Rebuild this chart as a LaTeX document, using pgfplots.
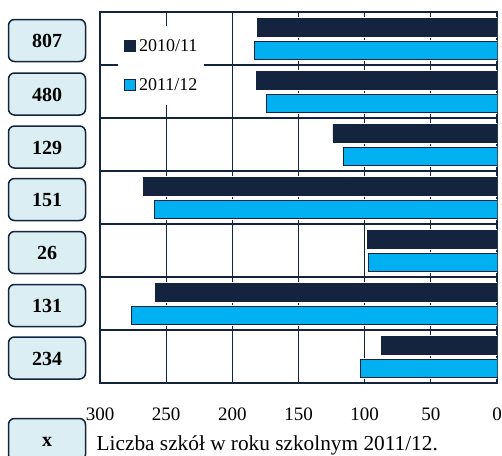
\documentclass[border=0pt]{standalone}
\usepackage{pgfplots}
\pgfplotsset{compat=1.18}
\usepackage{fontspec}
\setmainfont{Liberation Serif}
\definecolor{navy}{HTML}{14243E}
\definecolor{lblue}{HTML}{00B0F0}
\definecolor{boxfill}{HTML}{DBEEF3}
\pgfplotsset{
  layers/mylayers/.define layer set={axis background,axis grid,main,axis ticks,axis lines,axis tick labels,axis descriptions,axis foreground}{},
}
\begin{document}
\begin{tikzpicture}
\begin{axis}[
  set layers=mylayers,
  at={(100pt,-383pt)}, anchor=south west,
  width=397pt, height=371pt, scale only axis,
  xbar, bar width=18pt,
  xmin=0, xmax=300, x dir=reverse,
  ymin=0.5, ymax=7.5,
  xtick={0,50,...,300},
  ytick={1.5,2.5,...,6.5},
  yticklabels={},
  xmajorgrids, ymajorgrids,
  grid style={navy, line width=1.2pt},
  axis line style={navy, line width=1.8pt},
  major tick length=0pt,
  /pgf/number format/assume math mode=true,
  tick label style={font=\fontsize{19}{21}\selectfont, text=black},
  xticklabel style={yshift=-21pt},
  legend style={at={(axis description cs:0.045,0.962)}, anchor=north west,
    draw=none, fill=white, inner xsep=5pt, inner ysep=11pt, row sep=21.5pt,
    font=\fontsize{18}{20}\selectfont, legend cell align=left},
  legend image code/.code={\draw[#1, draw=navy, line width=0.8pt] (0pt,-5.5pt) rectangle (11pt,5.5pt);},
]
\addplot[fill=navy, draw=navy, line width=0.8pt, bar shift=11.5pt, preaction={draw=white, line width=3pt}]
  coordinates {(181,7) (182,6) (124,5) (267,4) (98,3) (258,2) (87,1)};
\addplot[fill=lblue, draw=navy, line width=1pt, bar shift=-11.5pt, preaction={draw=white, line width=3pt}]
  coordinates {(183,7) (174,6) (116,5) (259,4) (97,3) (276,2) (103,1)};
\legend{2010/11, 2011/12}
\end{axis}
\tikzset{bx/.style={draw=navy, line width=1.5pt, fill=boxfill, rounded corners=6pt,
  minimum width=77pt, minimum height=42pt, text height=14pt, text depth=0pt,
  font=\bfseries\fontsize{20}{22}\selectfont}}
\node[bx] at (47pt,-40.5pt) {807};
\node[bx] at (47pt,-94pt) {480};
\node[bx] at (47pt,-147pt) {129};
\node[bx] at (47pt,-199.5pt) {151};
\node[bx] at (47pt,-252.5pt) {26};
\node[bx] at (47pt,-305.5pt) {131};
\node[bx] at (47pt,-358pt) {234};
\begin{scope}
\clip (0pt,0pt) rectangle (502pt,-455pt);
\node[bx] at (47pt,-439.5pt) {x};
\end{scope}
\node[anchor=base west, inner sep=0pt, font=\fontsize{21.3}{24}\selectfont] at (96.5pt,-450pt) {Liczba szkół w roku szkolnym 2011/12.};
\pgfresetboundingbox
\useasboundingbox (0pt,0pt) rectangle (502pt,-455pt);
\end{tikzpicture}
\end{document}
